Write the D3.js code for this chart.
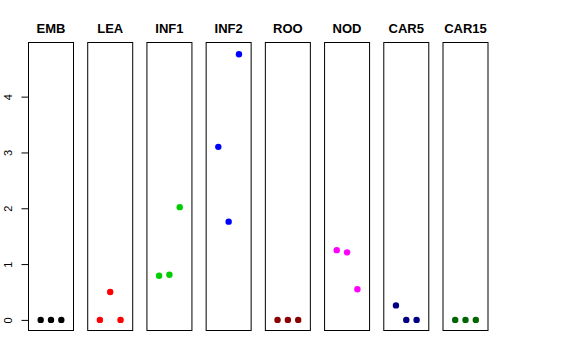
<!DOCTYPE html>
<html>
<head>
<meta charset="utf-8">
<script src="https://cdn.jsdelivr.net/npm/d3@7"></script>
<style>
  body { margin: 0; background: #fff; }
  text { font-family: "Liberation Sans", Arial, sans-serif; }
</style>
</head>
<body>
<div id="viz-wrapper"></div>
<script>
  // size of the svg
  var width = 576,
      height = 360;

  // panel names, colours and the three values in each panel
  var groups = ["EMB", "LEA", "INF1", "INF2", "ROO", "NOD", "CAR5", "CAR15"];
  var colors = ["#000000", "#ff0000", "#00cd00", "#0000ff", "#8b0000", "#ff00ff", "#000080", "#006400"];
  var values = [
    [0, 0, 0],
    [0, 0.5, 0],
    [0.79, 0.81, 2.02],
    [3.10, 1.76, 4.76],
    [0, 0, 0],
    [1.25, 1.21, 0.55],
    [0.26, 0, 0],
    [0, 0, 0]
  ];
  var yTicks = [0, 1, 2, 3, 4];

  var viz = d3.select("#viz-wrapper")
    .append("svg")
    .attr("width", width)
    .attr("height", height);

  // panel placement
  var panel = d3.scaleBand()
    .domain(groups)
    .range([28.5, 488])
    .paddingInner(0.24)
    .paddingOuter(0);

  var y = d3.scaleLinear()
    .domain([-0.19, 4.97])
    .range([330.5, 42.5]);

  // x inside a panel: point index 1..3
  var x = d3.scaleLinear()
    .domain([-0.18, 4.18])
    .range([0, panel.bandwidth()]);

  var panels = viz.selectAll("g.panel")
    .data(groups)
    .enter()
    .append("g")
    .attr("class", "panel")
    .attr("transform", function(d) { return "translate(" + panel(d) + ",0)"; });

  panels.append("rect")
    .attr("x", 0)
    .attr("y", y(4.97))
    .attr("width", panel.bandwidth())
    .attr("height", y(-0.19) - y(4.97))
    .attr("fill", "none")
    .attr("stroke", "#000")
    .attr("stroke-width", 1);

  panels.append("text")
    .attr("x", panel.bandwidth() / 2)
    .attr("y", 33)
    .attr("text-anchor", "middle")
    .attr("font-size", 13)
    .attr("font-weight", "bold")
    .text(function(d) { return d; });

  panels.selectAll("circle")
    .data(function(d, i) {
      return values[i].map(function(v, j) { return {v: v, j: j + 1, c: colors[i]}; });
    })
    .enter()
    .append("circle")
    .attr("cx", function(d) { return x(d.j); })
    .attr("cy", function(d) { return y(d.v); })
    .attr("r", 3.2)
    .attr("fill", function(d) { return d.c; });

  // y axis on the first panel
  var axis = viz.append("g")
    .attr("transform", "translate(28.5,0)")
    .call(d3.axisLeft(y).tickValues(yTicks).tickSize(7).tickSizeOuter(0).tickFormat(d3.format("d")));

  axis.select(".domain").attr("d", "M0," + y(0) + "V" + y(4));
  axis.selectAll(".tick text")
    .attr("font-size", 11)
    .attr("font-family", "Liberation Sans, Arial, sans-serif")
    .attr("text-anchor", "middle")
    .attr("transform", function() { return "rotate(-90)"; })
    .attr("x", 0)
    .attr("dy", 0)
    .attr("y", -17);
</script>
</body>
</html>
